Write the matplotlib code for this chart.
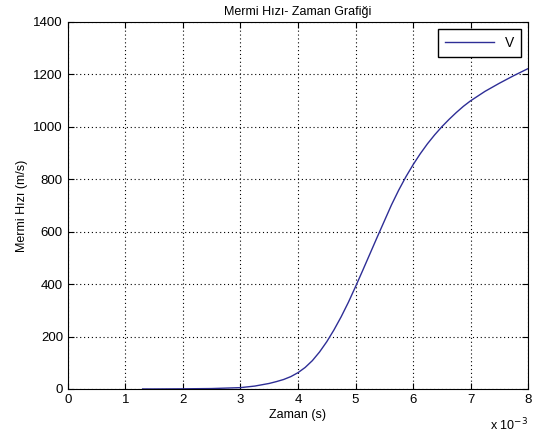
import matplotlib
matplotlib.use("Agg")
import matplotlib.pyplot as plt

# zaman (ms) ve hiz (m/s) degerleri
zaman_ms = [1.3, 1.5, 2.0, 2.5, 3.0, 3.25, 3.5, 3.625, 3.75, 3.875, 4.0,
            4.125, 4.25, 4.375, 4.5, 4.625, 4.75, 4.875, 5.0, 5.125, 5.25,
            5.375, 5.5, 5.625, 5.75, 5.875, 6.0, 6.125, 6.25, 6.375, 6.5,
            6.625, 6.75, 6.875, 7.0, 7.25, 7.5, 7.75, 8.0]
hiz = [0, 0, 0.5, 1.5, 5, 11, 21, 28, 36, 47, 62, 82, 108, 141, 180, 225,
       275, 330, 390, 452, 515, 578, 640, 702, 758, 809, 855, 897, 935,
       969, 1000, 1028, 1054, 1078, 1099, 1135, 1166, 1195, 1222]
x_ticks = [0, 1, 2, 3, 4, 5, 6, 7, 8]
y_ticks = [0, 200, 400, 600, 800, 1000, 1200, 1400]


def main():
    plt.rcParams["font.family"] = ["Liberation Sans", "DejaVu Sans"]
    fig = plt.figure(figsize=(5.34, 4.38), dpi=100)
    ax = fig.add_axes([0.127, 0.112, 0.862, 0.838])

    zaman = [t * 1e-3 for t in zaman_ms]
    ax.plot(zaman, hiz, color="#2e2e96", linewidth=1.0, label="V")

    ax.set_xlim(0, 8e-3)
    ax.set_ylim(0, 1400)
    ax.set_xticks([t * 1e-3 for t in x_ticks])
    ax.set_xticklabels([str(t) for t in x_ticks])
    ax.set_yticks(y_ticks)
    ax.tick_params(direction="in", labelsize=9.5, length=4, top=True,
                   right=True)
    ax.grid(True, linestyle=(0, (1, 2.5)), color="black", linewidth=0.8)

    ax.set_title("Mermi Hızı- Zaman Grafiği", fontsize=9, pad=5)
    ax.set_xlabel("Zaman (s)", fontsize=9, labelpad=2)
    ax.set_ylabel("Mermi Hızı (m/s)", fontsize=9)
    ax.text(1.0, -0.075, "x 10$^{-3}$", transform=ax.transAxes,
            ha="right", va="top", fontsize=9)

    leg = ax.legend(loc="upper right", fontsize=10, fancybox=False,
                    framealpha=1, handlelength=3.5, borderaxespad=0.5,
                    borderpad=0.5)
    leg.get_frame().set_edgecolor("black")

    fig.savefig("out.png")


if __name__ == "__main__":
    main()
